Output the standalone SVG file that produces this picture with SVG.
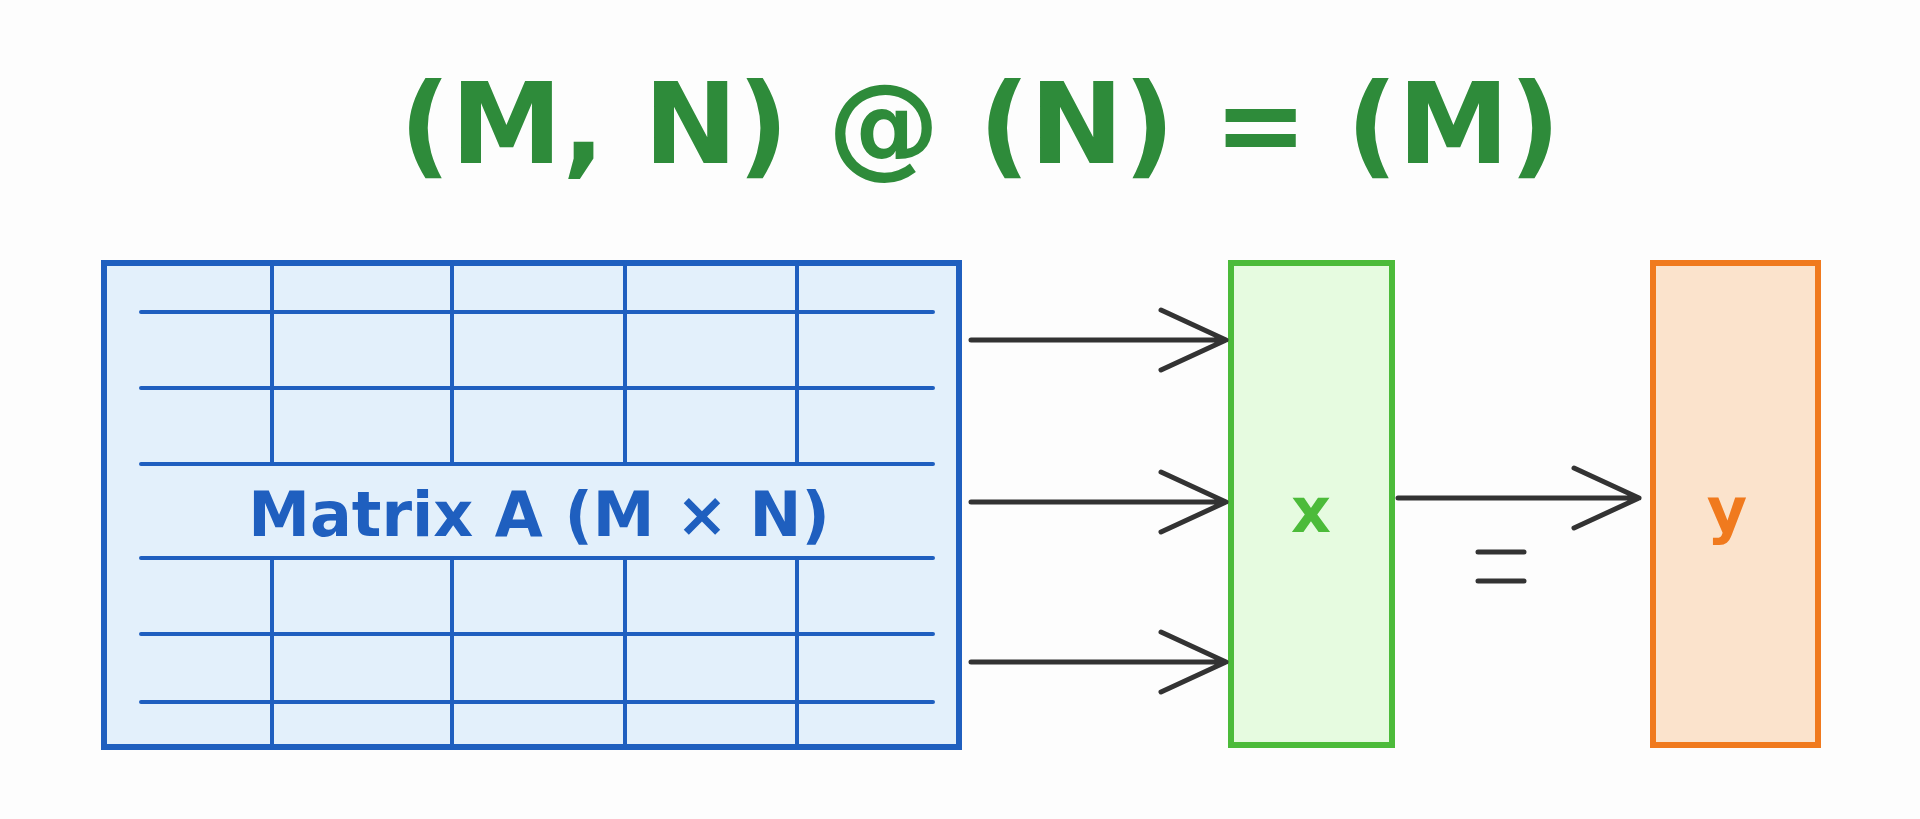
<svg xmlns="http://www.w3.org/2000/svg" width="1920" height="819" viewBox="0 0 1920 819">
<defs>
<style>
.t{font-family:"DejaVu Sans","Liberation Sans",sans-serif;text-anchor:middle;dominant-baseline:central;font-weight:bold}
.g{stroke:#1f5fbf;stroke-width:4;fill:none;stroke-linecap:round}
.a{stroke:#333;stroke-width:5;fill:none;stroke-linecap:round;stroke-linejoin:round}
</style>
</defs>
<rect width="1920" height="819" fill="#fdfdfd"/>
<text class="t" x="980" y="124" font-size="112" fill="#2e8b3a">(M, N) @ (N) = (M)</text>
<g id="matrixA">
<rect x="104" y="263" width="855" height="484" fill="#e3f0fb" stroke="#1f5fbf" stroke-width="6"/>
<path class="g" d="M141 312H933M141 388H933M141 464H933M141 558H933M141 634H933M141 702H933"/>
<path class="g" d="M272 263V464M452 263V464M625 263V464M797 263V464M272 558V747M452 558V747M625 558V747M797 558V747"/>
<text class="t" x="539" y="514" font-size="62" fill="#1f5fbf">Matrix A (M × N)</text>
</g>
<g id="vecX">
<rect x="1231" y="263" width="161" height="482" fill="#e6fbe0" stroke="#4cbb3a" stroke-width="6"/>
<text class="t" x="1311" y="510" font-size="62" fill="#4cbb3a">x</text>
</g>
<g id="vecY">
<rect x="1653" y="263" width="165" height="482" fill="#fbe3cc" stroke="#f07a1e" stroke-width="6"/>
<text class="t" x="1727" y="510" font-size="62" fill="#f07a1e">y</text>
</g>
<g id="connectors">
<path class="a" d="M971 340H1226M1161 310L1226 340L1161 370"/>
<path class="a" d="M971 502H1226M1161 472L1226 502L1161 532"/>
<path class="a" d="M971 662H1226M1161 632L1226 662L1161 692"/>
<path class="a" d="M1398 498H1639M1574 468L1639 498L1574 528"/>
<path class="a" stroke-width="7" d="M1478 552H1524M1478 581H1524"/>
</g>
</svg>
